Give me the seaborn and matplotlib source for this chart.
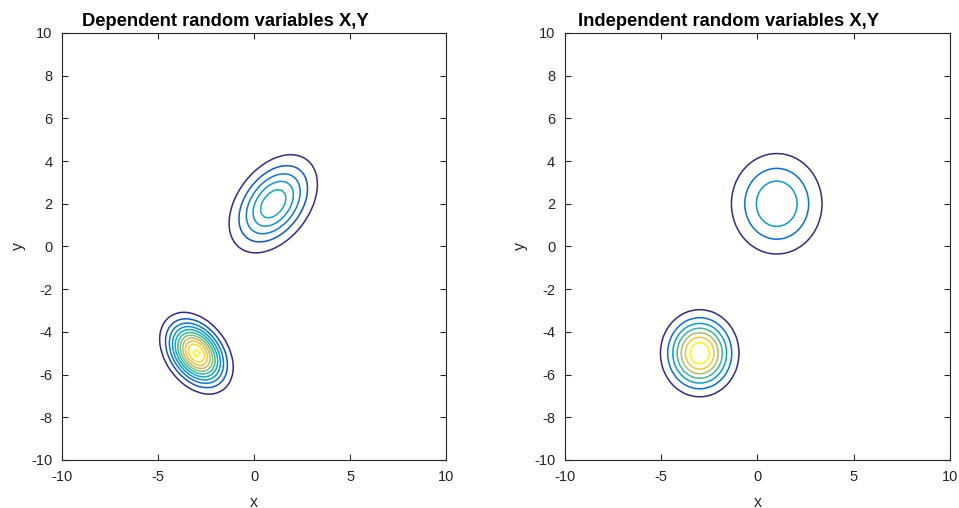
import numpy as np
import matplotlib
matplotlib.use("Agg")
import matplotlib.pyplot as plt
from matplotlib.colors import LinearSegmentedColormap, Normalize
import seaborn as sns

# -------- Datos: mezcla de dos normales bivariadas (pesos iguales) --------
PESOS = [0.5, 0.5]
MEDIAS = [[1.0, 2.0], [-3.0, -5.0]]

# Caso dependiente (covarianza no diagonal)
COV_DEP = [[[1.5, 0.6], [0.6, 1.5]],
           [[0.75, -0.26], [-0.26, 0.75]]]
# Caso independiente (covarianza diagonal)
COV_IND = [[[2.0, 0.0], [0.0, 2.0]],
           [[1.0, 0.0], [0.0, 1.0]]]

NIVELES_DEP = [0.01, 0.02, 0.03, 0.04, 0.05, 0.06, 0.07, 0.08, 0.09, 0.10, 0.11]
NIVELES_IND = [0.01, 0.02, 0.03, 0.04, 0.05, 0.06, 0.07]

TITULOS = ["Dependent random variables X,Y", "Independent random variables X,Y"]
XTICKS = [-10, -5, 0, 5, 10]
YTICKS = [-10, -8, -6, -4, -2, 0, 2, 4, 6, 8, 10]

# parula aproximado
PARULA = ["#352a87", "#0363e1", "#1485d4", "#06a7c6", "#38b99e",
          "#92bf73", "#d9ba56", "#fcce2e", "#f9fb0e"]
cmap = LinearSegmentedColormap.from_list("parula", PARULA)


def densidad(X, Y, medias, covs, pesos):
    Z = np.zeros_like(X)
    pos = np.dstack([X, Y])
    for w, mu, S in zip(pesos, medias, covs):
        S = np.asarray(S)
        inv = np.linalg.inv(S)
        d = pos - np.asarray(mu)
        q = np.einsum("...i,ij,...j->...", d, inv, d)
        Z += w * np.exp(-0.5 * q) / (2 * np.pi * np.sqrt(np.linalg.det(S)))
    return Z


sns.set_theme(style="white")
plt.rcParams["font.family"] = ["Liberation Sans", "DejaVu Sans"]
plt.rcParams["axes.unicode_minus"] = False
plt.rcParams.update({"xtick.bottom": True, "xtick.top": True,
                     "ytick.left": True, "ytick.right": True,
                     "xtick.direction": "in", "ytick.direction": "in",
                     "xtick.major.size": 4, "ytick.major.size": 4,
                     "xtick.major.width": 0.8, "ytick.major.width": 0.8})

g = np.arange(-10, 10.001, 0.2)
X, Y = np.meshgrid(g, g)

fig = plt.figure(figsize=(9.59, 5.08), dpi=100)
posiciones = [[0.0647, 0.0945, 0.4004, 0.8406], [0.5891, 0.0945, 0.4015, 0.8406]]

for k, (covs, niveles) in enumerate([(COV_DEP, NIVELES_DEP), (COV_IND, NIVELES_IND)]):
    ax = fig.add_axes(posiciones[k])
    Z = densidad(X, Y, MEDIAS, covs, PESOS)
    ax.contour(X, Y, Z, levels=niveles, cmap=cmap,
               norm=Normalize(vmin=niveles[0], vmax=niveles[-1]),
               linewidths=1.1)
    ax.set_xlim(-10, 10)
    ax.set_ylim(-10, 10)
    ax.set_xticks(XTICKS)
    ax.set_yticks(YTICKS)
    ax.tick_params(which="major", direction="in", length=4, width=0.8,
                   bottom=True, left=True, top=True, right=True,
                   labelsize=10.5, color="#262626", labelcolor="#262626", pad=7)
    for s in ax.spines.values():
        s.set_color("#262626")
        s.set_linewidth(0.8)
    ax.set_xlabel("x", fontsize=11.5, color="#262626", labelpad=8)
    ax.set_ylabel("y", fontsize=11.5, color="#262626", labelpad=4)
    ax.set_title(TITULOS[k], x=0.425, fontsize=13.2, fontweight="bold",
                 color="black", pad=5)

fig.savefig("out.png", dpi=100)
